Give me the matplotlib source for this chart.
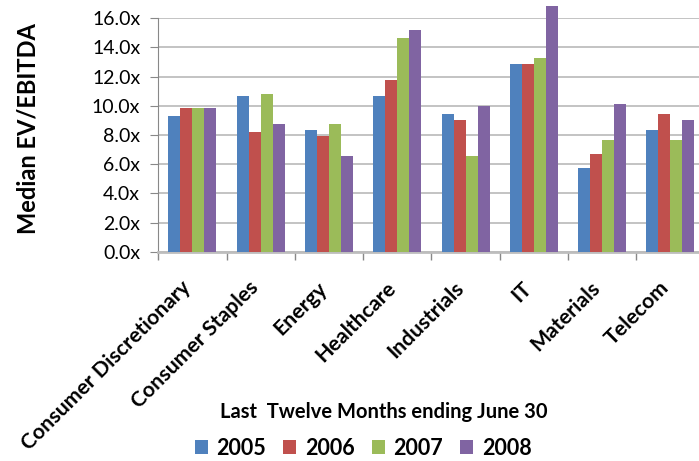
import numpy as np
import matplotlib
matplotlib.use('Agg')
import matplotlib.pyplot as plt
import matplotlib.transforms as mtrans

# data
sectors = ['Consumer Discretionary', 'Consumer Staples', 'Energy', 'Healthcare',
           'Industrials', 'IT', 'Materials', 'Telecom']
years = ['2005', '2006', '2007', '2008']
v2005 = [9.3, 10.7, 8.35, 10.7, 9.45, 12.85, 5.75, 8.35]
v2006 = [9.85, 8.2, 7.95, 11.75, 9.05, 12.85, 6.7, 9.45]
v2007 = [9.85, 10.8, 8.75, 14.65, 6.55, 13.25, 7.65, 7.65]
v2008 = [9.85, 8.75, 6.55, 15.2, 10.0, 16.85, 10.1, 9.05]
colors = ['#4F81BD', '#C0504D', '#9BBB59', '#8064A2']

plt.rcParams['font.family'] = ['Lato', 'DejaVu Sans']

W, H = 699, 461
fig = plt.figure(figsize=(W/100, H/100), dpi=100)
left, right, top, bottom = 158.3, 704.6, 18.3, 251.7
ax = fig.add_axes([left/W, 1-bottom/H, (right-left)/W, (bottom-top)/H])

x = np.arange(len(sectors))
bw = 12/68.3
for i, (vals, c, lab) in enumerate(zip([v2005, v2006, v2007, v2008], colors, years)):
    ax.bar(x + (i-1.5)*bw, vals, bw, color=c, label=lab, clip_on=False, zorder=3)

ax.set_xlim(-0.5, len(sectors)-0.5)
ax.set_ylim(0, 16)
ax.set_yticks(np.arange(0, 17, 2))
ax.set_yticklabels(['%.1fx' % v for v in np.arange(0, 17, 2)], fontsize=14)
ax.yaxis.grid(True, color='#b3b3b3', linewidth=1.1, zorder=0)
ax.set_axisbelow(True)
for s in ['top', 'right']:
    ax.spines[s].set_visible(False)
ax.spines['left'].set_color('#888888')
ax.spines['bottom'].set_color('#bdbdbd')
ax.spines['bottom'].set_linewidth(2)
ax.tick_params(axis='y', length=6, color='#888888', pad=7)
ax.set_xticks(np.arange(-0.5, len(sectors)), labels=[])
ax.tick_params(axis='x', length=6, color='#888888', width=1)

# rotated category labels
off = mtrans.offset_copy(ax.transData, fig=fig, x=-12, y=-26, units='dots')
for xi, name in zip(x, sectors):
    ax.text(xi, 0, name, transform=off, rotation=45, rotation_mode='anchor',
            ha='right', va='top', fontsize=15.3, fontweight='bold')

fig.text(28/W, 1-129/H, 'Median EV/EBITDA', rotation=90, ha='center', va='center',
         fontsize=17, fontweight='bold')
fig.text(384/W, 1-412/H, 'Last  Twelve Months ending June 30', ha='center', va='center',
         fontsize=14.5, fontweight='bold')

fig.legend(loc='center', bbox_to_anchor=(363/W, 1-448/H), ncol=4, frameon=False,
           prop={'size': 15.5, 'weight': 'bold'}, handlelength=0.6, handleheight=0.6,
           columnspacing=0.8, handletextpad=0.4, borderpad=0, borderaxespad=0)

fig.savefig('out.png', dpi=100)
